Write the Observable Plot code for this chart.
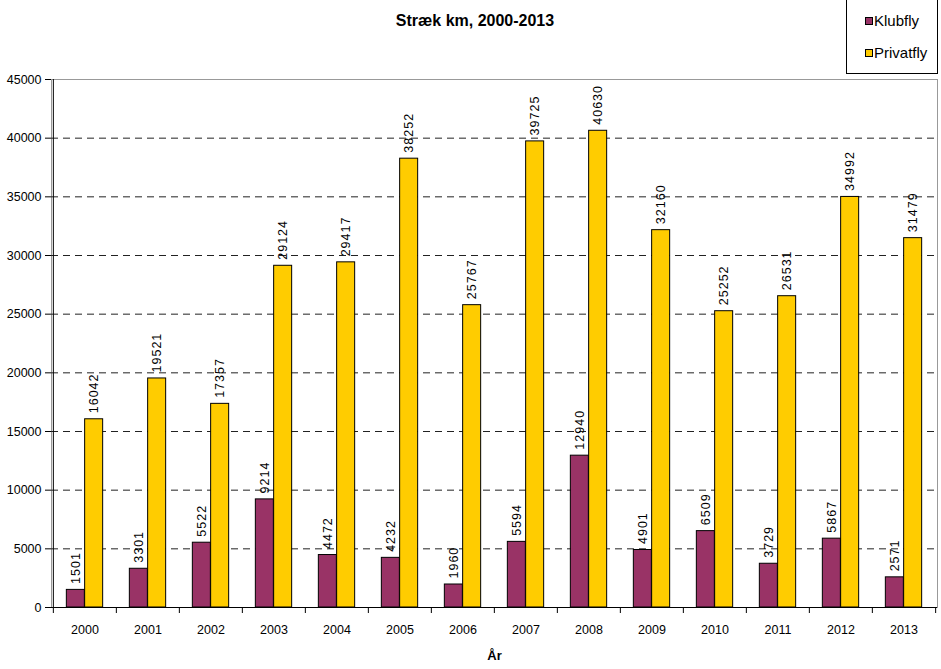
<!DOCTYPE html>
<html>
<head>
<meta charset="utf-8">
<script src="https://cdn.jsdelivr.net/npm/d3@7"></script>
<script src="https://cdn.jsdelivr.net/npm/@observablehq/plot@0.6"></script>
<style>
  body { margin: 0; background: #fff; font-family: "Liberation Sans", Arial, sans-serif; }
  #wrap { position: relative; width: 941px; height: 669px; overflow: hidden; }
  #title { position: absolute; left: 0; top: 12px; width: 950px; text-align: center; font-weight: bold; font-size: 16px; line-height: 18px; color: #000; }
  #legend { position: absolute; left: 846px; top: -1px; width: 90px; height: 73px; border: 1px solid #000; background: #fff; font-size: 15px; color: #000; }
  .item { position: absolute; left: 18px; display: flex; align-items: center; line-height: 18px; }
  .sw { width: 6px; height: 6px; border: 1px solid #000; margin-right: 1px; }
</style>
</head>
<body>
<div id="wrap">
  <div id="chart"></div>
  <div id="title">Stræk km, 2000-2013</div>
  <div id="legend"></div>
</div>
<script>
const years = ["2000","2001","2002","2003","2004","2005","2006","2007","2008","2009","2010","2011","2012","2013"];
const klubfly = [1501,3301,5522,9214,4472,4232,1960,5594,12940,4901,6509,3729,5867,2571];
const privatfly = [16042,19521,17357,29124,29417,38252,25767,39725,40630,32160,25252,26531,34992,31479];
const seriesNames = ["Klubfly", "Privatfly"];
const seriesColors = ["#993366", "#FFCC00"];
const yTicks = [0,5000,10000,15000,20000,25000,30000,35000,40000,45000];
const xTitle = "År";

const W = 941, H = 669;
const mL = 51, mR = 4, mT = 79, mB = 62;
const bw = (W - mL - mR) / years.length;   // band width
const barW = 18.3;
const half = bw / 2;

const kData = years.map((y, i) => ({year: y, value: klubfly[i]}));
const pData = years.map((y, i) => ({year: y, value: privatfly[i]}));

const chart = Plot.plot({
  width: W, height: H,
  marginLeft: mL, marginRight: mR, marginTop: mT, marginBottom: mB,
  style: {fontFamily: "Liberation Sans, Arial, sans-serif", fontSize: "12px", background: "#fff", color: "#000"},
  x: {type: "band", domain: years, padding: 0},
  y: {domain: [0, 45000]},
  marks: [
    Plot.frame({stroke: "#999", strokeWidth: 1}),
    Plot.ruleY(yTicks.filter(d => d > 0 && d < 45000), {stroke: "#222", strokeDasharray: "7,5", strokeWidth: 1}),
    Plot.barY(kData, {x: "year", y: "value", fill: seriesColors[0], stroke: "#000", strokeWidth: 1, insetLeft: half - barW, insetRight: half}),
    Plot.barY(pData, {x: "year", y: "value", fill: seriesColors[1], stroke: "#000", strokeWidth: 1, insetLeft: half, insetRight: half - barW}),
    Plot.text(kData, {x: "year", y: "value", text: d => String(d.value), rotate: -90, textAnchor: "start", dx: -barW / 2, dy: -6, fontSize: 12.5, fill: "#000"}),
    Plot.text(pData, {x: "year", y: "value", text: d => String(d.value), rotate: -90, textAnchor: "start", dx: barW / 2, dy: -6, fontSize: 12.5, fill: "#000"}),
    Plot.ruleY([0], {stroke: "#000", strokeWidth: 1}),
    Plot.ruleX([years[0]], {dx: -half, stroke: "#000", strokeWidth: 1}),
    Plot.axisY({ticks: yTicks, tickFormat: d => String(d), tickSize: 6, tickPadding: 4, label: null, fontSize: 12.5}),
    Plot.axisX({tickSize: 6, tickFormat: () => "", dx: -half, label: null}),
    Plot.axisX({ticks: [years[years.length - 1]], tickSize: 6, tickFormat: () => "", dx: half, label: null}),
    Plot.axisX({tickSize: 0, tickPadding: 18, label: null, fontSize: 12.5}),
    Plot.text([xTitle], {frameAnchor: "bottom", dy: 52, fontWeight: "bold", fontSize: 13, fill: "#000"})
  ]
});
// widen the value labels' letter spacing, as in the reference
const textGroups = chart.querySelectorAll('g[aria-label="text"]');
[0, 1].forEach(k => { if (textGroups[k]) textGroups[k].style.letterSpacing = "1px"; });
document.getElementById("chart").appendChild(chart);

const legend = document.getElementById("legend");
seriesNames.forEach((name, i) => {
  const item = document.createElement("div");
  item.className = "item";
  item.style.top = (i === 0 ? 12 : 44) + "px";
  const sw = document.createElement("span");
  sw.className = "sw";
  sw.style.background = seriesColors[i];
  const t = document.createElement("span");
  t.textContent = name;
  item.appendChild(sw);
  item.appendChild(t);
  legend.appendChild(item);
});
</script>
</body>
</html>
